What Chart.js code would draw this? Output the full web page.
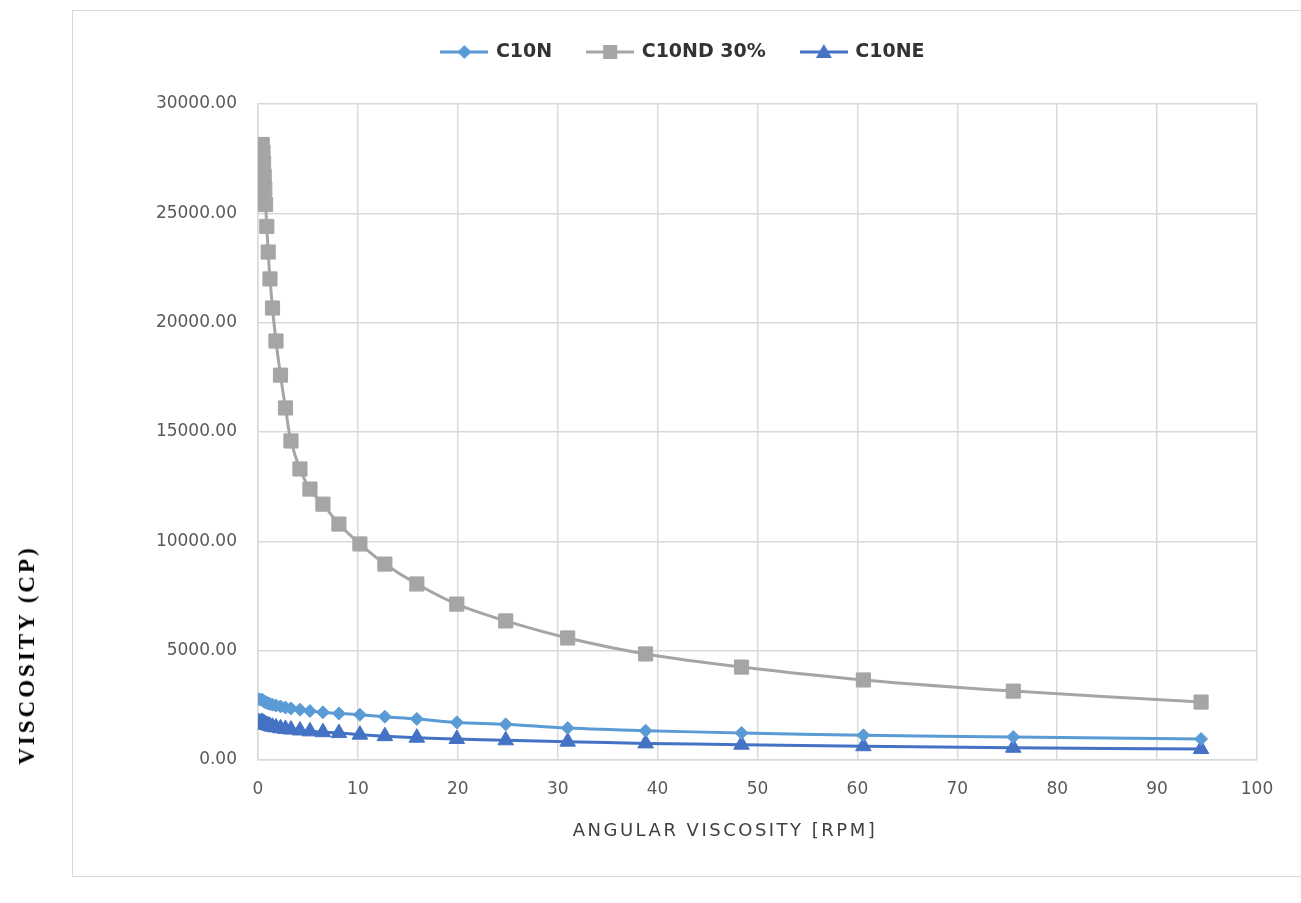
<!DOCTYPE html>
<html>
<head>
<meta charset="utf-8">
<title>Viscosity vs angular viscosity</title>
<script src="https://cdn.jsdelivr.net/npm/chart.js@4.4.1/dist/chart.umd.min.js"></script>
<style>
  html, body { margin:0; padding:0; background:#fff; overflow:hidden; }
  #wrap { position:relative; width:1301px; height:903px; }
  .frame { position:absolute; left:72px; top:10px; width:1260px; height:865px; border:1px solid #d9d9d9; }
  #chart { position:absolute; left:0; top:0; }
  .ytitle { position:absolute; left:27px; top:655px; transform:translate(-50%,-50%) rotate(-90deg);
    font:bold 23px 'Liberation Serif', serif; letter-spacing:3px; color:#000; white-space:nowrap; }
  .xtitle { position:absolute; left:725px; top:829px; transform:translate(-50%,-50%);
    font:18px 'DejaVu Sans', sans-serif; letter-spacing:2.5px; color:#404040; white-space:nowrap; }
</style>
</head>
<body>
<div id="wrap">
  <div class="frame"></div>
  <canvas id="chart" width="1301" height="903"></canvas>
  <div class="xtitle">ANGULAR VISCOSITY [RPM]</div>
  <div class="ytitle">VISCOSITY (CP)</div>
</div>
<script>
(() => {
  // data
  const seriesNames = ['C10N', 'C10ND 30%', 'C10NE'];
  const rpm   = [0.1, 0.35, 0.42, 0.5, 0.56, 0.62, 0.68, 0.76, 0.88, 1.02, 1.2, 1.45, 1.8, 2.25, 2.75,
                 3.3, 4.2, 5.2, 6.5, 8.1, 10.2, 12.7, 15.9, 19.9, 24.8, 31.0, 38.8, 48.4, 60.6, 75.6, 94.4];
  const c10n  = [2780, 2760, 2740, 2720, 2700, 2680, 2660, 2640, 2620, 2590, 2560, 2530, 2490, 2450, 2400,
                 2360, 2300, 2240, 2180, 2130, 2070, 1980, 1880, 1720, 1630, 1460, 1340, 1240, 1130, 1050, 960];
  const c10nd = [25500, 28100, 28150, 27800, 27300, 26700, 26100, 25400, 24400, 23230, 22000, 20670, 19160, 17600, 16100,
                 14590, 13310, 12390, 11700, 10790, 9880, 8960, 8050, 7130, 6360, 5580, 4850, 4250, 3660, 3150, 2650];
  const c10ne = [1720, 1740, 1720, 1700, 1680, 1660, 1640, 1620, 1600, 1580, 1550, 1520, 1490, 1450, 1420,
                 1390, 1350, 1310, 1270, 1230, 1160, 1090, 1020, 960, 900, 840, 760, 700, 630, 560, 500];
  const xMax = 100, xStep = 10;
  const yMax = 30000, yStep = 5000;

  // styles
  const colors = ['#5B9BD5', '#A5A5A5', '#4472C4'];
  const markers = ['rectRot', 'rect', 'triangle'];
  const radii = [6.5, 10, 9];
  const tickFont = { family: 'DejaVu Sans', size: 17 };
  const gridColor = '#d9d9d9';

  // line + marker sample for the legend, like the spreadsheet legend
  function legendSample(color, style){
    const c = document.createElement('canvas');
    c.width = 48; c.height = 22;
    const g = c.getContext('2d');
    g.strokeStyle = color; g.fillStyle = color; g.lineWidth = 3;
    g.beginPath(); g.moveTo(0, 11); g.lineTo(48, 11); g.stroke();
    g.beginPath();
    if(style === 'rectRot'){ g.moveTo(24, 4); g.lineTo(31, 11); g.lineTo(24, 18); g.lineTo(17, 11); }
    else if(style === 'rect'){ g.rect(17, 4, 14, 14); }
    else { g.moveTo(24, 3); g.lineTo(32, 17); g.lineTo(16, 17); }
    g.closePath(); g.fill();
    return c;
  }
  const samples = colors.map((c, i) => legendSample(c, markers[i]));

  const values = [c10n, c10nd, c10ne];
  const datasets = seriesNames.map((name, i) => ({
    label: name,
    data: rpm.map((x, j) => ({ x, y: values[i][j] })),
    borderColor: colors[i],
    backgroundColor: colors[i],
    borderWidth: 3,
    pointStyle: markers[i],
    pointRadius: radii[i],
    pointBackgroundColor: colors[i],
    pointBorderColor: colors[i],
    pointBorderWidth: 1,
    tension: 0.35
  }));

  new Chart(document.getElementById('chart').getContext('2d'), {
    type: 'line',
    data: { datasets },
    options: {
      responsive: false,
      animation: false,
      devicePixelRatio: 1,
      layout: { padding: { left: 110, right: 44, top: 6.5, bottom: 0 } },
      plugins: {
        tooltip: { enabled: false },
        legend: {
          position: 'top',
          align: 'center',
          labels: {
            usePointStyle: true,
            pointStyleWidth: 44,
            padding: 36,
            color: '#333333',
            font: { family: 'DejaVu Sans', size: 19, weight: 'bold' },
            generateLabels(chart){
              const items = Chart.defaults.plugins.legend.labels.generateLabels(chart);
              items.forEach(it => { it.pointStyle = samples[it.datasetIndex]; });
              return items;
            }
          }
        },
        // empty spacer between legend and plot
        title: { display: true, text: '', weight: 500, font: { size: 5, lineHeight: 1 }, padding: { top: 27.5, bottom: 0 } }
      },
      scales: {
        x: {
          type: 'linear', min: 0, max: xMax,
          ticks: { stepSize: xStep, padding: 19, color: '#595959', font: tickFont },
          grid: { color: gridColor, lineWidth: 1.5, drawTicks: false },
          border: { color: gridColor, width: 1.5 },
          afterFit(s){ s.height = 143; }
        },
        y: {
          min: 0, max: yMax,
          ticks: { stepSize: yStep, padding: 21, color: '#595959', font: tickFont, callback: v => Number(v).toFixed(2) },
          grid: { color: gridColor, lineWidth: 1.5, drawTicks: false },
          border: { color: gridColor, width: 1.5 },
          afterFit(s){ s.width = 148; }
        }
      }
    }
  });
})();
</script>
</body>
</html>
